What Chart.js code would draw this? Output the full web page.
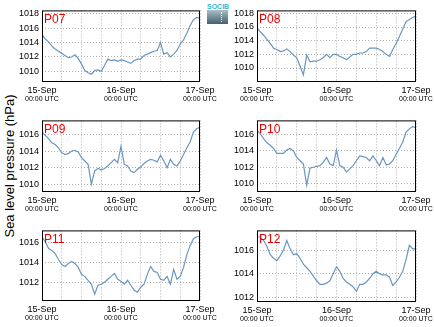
<!DOCTYPE html>
<html>
<head>
<meta charset="utf-8">
<script src="https://cdn.jsdelivr.net/npm/chart.js@4.4.0/dist/chart.umd.min.js"></script>
<style>
  body { margin: 0; width: 434px; height: 327px; overflow: hidden; background: #fff; position: relative; font-family: "Liberation Sans", Arial, sans-serif; }
  canvas { position: absolute; }
  #ytitle { position: absolute; left: 9px; top: 166px; transform: translate(-50%, -50%) rotate(-90deg); white-space: nowrap; font-size: 13px; color: #000; }
  #logo { position: absolute; left: 207px; top: 3px; width: 21px; }
  #logo .t { font: bold 7px "Liberation Sans", Arial, sans-serif; color: #36b9d2; text-align: center; line-height: 7px; height: 7px; }
  #logo .g { position: relative; height: 14px; background: linear-gradient(#a9bec7, #44606f); }
  #logo .g span { position: absolute; left: 14px; top: 2px; height: 10px; border-left: 1px dotted #fff; }
</style>
</head>
<body>
<div id="ytitle">Sea level pressure (hPa)</div>
<div id="logo"><div class="t">SOCIB</div><div class="g"><span></span></div></div>
<script>
// hours since 15-Sep 00:00 UTC
const hours = [0,1,2,3,4,5,6,7,8,9,10,11,12,13,14,15,16,17,18,19,20,21,22,23,24,
  25,26,27,28,29,30,31,32,33,34,35,36,37,38,39,40,41,42,43,44,45,46,47,48];

const stations = ["P07", "P08", "P09", "P10", "P11", "P12"];

const p07 = [1015.1,1014.5,1014.1,1013.5,1013.1,1012.8,1012.5,1012.2,1011.9,1012.0,1012.3,1011.8,1011.0,
  1010.1,1009.8,1009.6,1010.1,1010.2,1010.0,1010.8,1011.7,1011.5,1011.6,1011.4,1011.6,
  1011.5,1011.3,1011.1,1011.5,1011.7,1011.7,1012.2,1012.4,1012.6,1012.8,1012.9,1014.0,1012.4,
  1012.6,1012.0,1012.4,1012.9,1013.8,1014.4,1015.3,1016.4,1017.2,1017.5,1017.4];
const p08 = [1015.9,1015.3,1014.8,1014.2,1013.6,1012.9,1012.7,1012.4,1012.5,1012.8,1012.4,1011.9,1011.5,
  1010.3,1009.0,1011.9,1010.9,1011.0,1011.0,1011.2,1011.5,1012.0,1011.5,1012.0,1012.0,
  1011.7,1011.5,1011.2,1011.6,1012.0,1012.0,1012.2,1012.2,1012.4,1012.9,1012.9,1012.9,1012.7,
  1012.4,1012.0,1011.7,1012.7,1013.6,1014.6,1015.7,1016.8,1017.1,1017.4,1017.6];
const p09 = [1016.3,1015.9,1015.5,1015.0,1014.8,1014.4,1013.8,1013.6,1013.7,1014.0,1014.1,1013.9,1013.2,
  1012.8,1012.4,1010.0,1011.6,1011.9,1011.7,1011.9,1012.2,1012.6,1013.0,1012.6,1014.6,
  1012.4,1012.2,1011.6,1011.4,1011.8,1012.1,1012.5,1012.8,1013.0,1012.9,1012.7,1013.5,1012.8,
  1012.0,1013.0,1012.4,1012.2,1012.8,1013.6,1014.4,1015.1,1016.3,1016.7,1016.9];
const p10 = [1016.5,1016.1,1015.5,1015.0,1014.7,1014.3,1013.7,1013.7,1013.7,1014.1,1014.3,1014.0,1013.2,
  1012.8,1012.4,1009.8,1011.9,1012.0,1012.1,1012.2,1012.6,1013.2,1012.4,1012.2,1014.1,
  1012.2,1012.0,1011.4,1011.8,1012.2,1012.8,1013.4,1013.3,1013.2,1012.8,1013.4,1012.8,1012.2,
  1013.2,1012.3,1012.4,1012.8,1013.6,1014.3,1015.1,1016.3,1016.7,1017.0,1016.8];
const p11 = [1016.6,1016.1,1015.4,1015.2,1014.9,1014.3,1013.8,1013.6,1013.9,1014.1,1013.9,1013.5,1012.8,
  1012.6,1012.2,1011.8,1010.8,1011.7,1011.8,1012.0,1012.3,1012.6,1012.9,1012.3,1012.1,
  1011.8,1012.2,1011.7,1011.2,1011.0,1011.5,1011.8,1012.8,1013.6,1013.1,1013.0,1012.3,1012.2,
  1012.6,1011.8,1013.3,1012.3,1012.6,1013.5,1014.8,1015.7,1016.4,1016.6,1016.6];
const p12 = [1017.1,1017.1,1016.8,1016.3,1015.6,1015.3,1015.1,1015.5,1016.0,1016.8,1016.1,1015.6,1015.7,
  1015.3,1014.8,1014.5,1014.2,1013.8,1013.4,1013.1,1013.1,1013.2,1013.4,1014.0,1014.6,
  1014.2,1013.6,1013.3,1013.1,1012.9,1012.5,1013.1,1013.1,1013.3,1013.6,1014.0,1014.2,1014.0,
  1013.9,1013.9,1013.7,1013.0,1013.3,1013.7,1014.2,1015.2,1016.4,1016.1,1016.1];
const series = [p07, p08, p09, p10, p11, p12];

const yMin = [1008.65, 1008.1, 1009.18, 1009.09, 1010.21, 1011.69];
const yMax = [1018.49, 1018.43, 1017.71, 1017.74, 1017.24, 1017.66];
const dayLabels = { 0: "15-Sep", 24: "16-Sep", 48: "17-Sep" };
const timeLabel = "00:00 UTC";

// plot areas: left, top, right, bottom
const boxes = [
  [42, 8, 200, 81], [257, 8, 416, 81],
  [42, 118, 200, 191], [257, 118, 416, 191],
  [42, 228, 200, 300], [257, 228, 416, 301]
];
const AXW = 40, PADT = 6, PADR = 20, AXH = 30;

const framePlugin = {
  id: "frame",
  afterDatasetsDraw(chart) {
    const a = chart.chartArea, ctx = chart.ctx;
    ctx.save();
    ctx.strokeStyle = "#000";
    ctx.lineWidth = 1;
    ctx.strokeRect(a.left + 0.5, a.top + 0.5, a.right - a.left - 1, a.bottom - a.top);
    ctx.fillStyle = "#e00";
    ctx.font = "12px 'Liberation Sans', Arial, sans-serif";
    ctx.textBaseline = "top";
    ctx.fillText(chart.options.plugins.frame.name, a.left + 2, a.top + 3);
    ctx.fillStyle = "#000";
    ctx.font = "7px 'Liberation Sans', Arial, sans-serif";
    ctx.textAlign = "center";
    ctx.textBaseline = "middle";
    const xs = chart.scales.x;
    Object.keys(dayLabels).forEach(k => {
      ctx.fillText(timeLabel, xs.getPixelForValue(Number(k)), a.bottom + 18);
    });
    ctx.restore();
  }
};

series.forEach((vals, i) => {
  const [l, t, r, b] = boxes[i];
  const cv = document.createElement("canvas");
  cv.width = (r - l) + AXW + PADR;
  cv.height = (b - t) + PADT + AXH;
  cv.style.left = (l - AXW) + "px";
  cv.style.top = (t - PADT) + "px";
  document.body.appendChild(cv);

  new Chart(cv, {
    type: "line",
    data: {
      datasets: [{
        data: hours.map((h, j) => ({ x: h, y: vals[j] })),
        borderColor: "#6a97c0",
        borderWidth: 1.2,
        pointRadius: 0,
        tension: 0
      }]
    },
    options: {
      responsive: false,
      animation: false,
      devicePixelRatio: 1,
      layout: { padding: { left: 0, top: PADT, right: PADR, bottom: 0 } },
      plugins: { legend: { display: false }, tooltip: { enabled: false }, frame: { name: stations[i] } },
      scales: {
        x: {
          type: "linear", min: 0, max: 48,
          afterFit(s) { s.height = AXH; },
          ticks: { stepSize: 6, autoSkip: false, maxRotation: 0, padding: 4, color: "#000",
            font: { size: 9, family: "'Liberation Sans', Arial, sans-serif" },
            callback: v => dayLabels[v] || "" },
          grid: { color: "#b0b0b0", drawTicks: false },
          border: { display: false, dash: [1, 2] }
        },
        y: {
          min: yMin[i], max: yMax[i],
          afterFit(s) { s.width = AXW; },
          ticks: { stepSize: 2, includeBounds: false, padding: 3, color: "#000",
            font: { size: 9, family: "'Liberation Sans', Arial, sans-serif" },
            callback: v => String(v) },
          grid: { color: "#b0b0b0", drawTicks: false },
          border: { display: false, dash: [1, 2] }
        }
      }
    },
    plugins: [framePlugin]
  });
});
</script>
</body>
</html>
